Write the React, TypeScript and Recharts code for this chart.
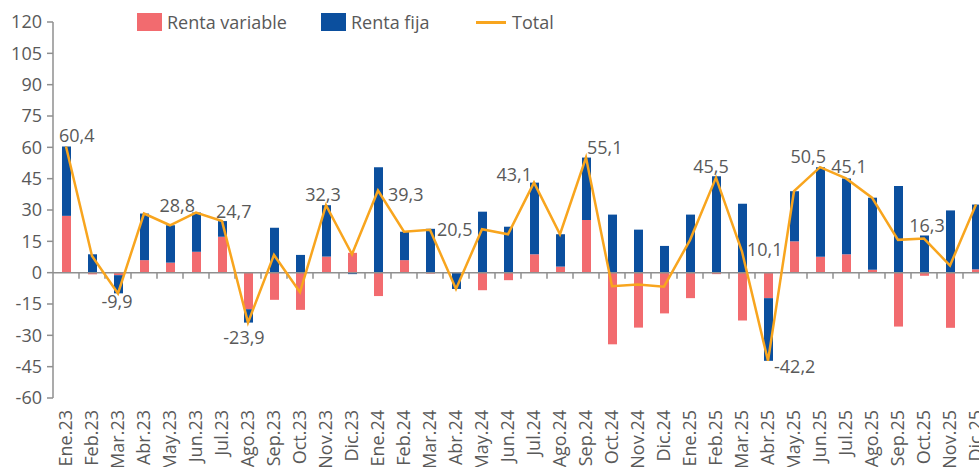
import React from 'react';
import { ComposedChart, Bar, Line, XAxis, YAxis, ReferenceLine, LabelList } from 'recharts';

const months = [
  'Ene.23', 'Feb.23', 'Mar.23', 'Abr.23', 'May.23', 'Jun.23', 'Jul.23', 'Ago.23', 'Sep.23', 'Oct.23', 'Nov.23', 'Dic.23',
  'Ene.24', 'Feb.24', 'Mar.24', 'Abr.24', 'May.24', 'Jun.24', 'Jul.24', 'Ago.24', 'Sep.24', 'Oct.24', 'Nov.24', 'Dic.24',
  'Ene.25', 'Feb.25', 'Mar.25', 'Abr.25', 'May.25', 'Jun.25', 'Jul.25', 'Ago.25', 'Sep.25', 'Oct.25', 'Nov.25', 'Dic.25',
];

const rentaVariable = [
  27.2, -0.8, -1.2, 6.0, 4.8, 10.0, 17.2, -17.5, -13.0, -17.8, 7.7, 9.5,
  -11.2, 6.0, -0.5, 0, -8.4, -3.6, 8.8, 2.9, 25.2, -34.3, -26.3, -19.5,
  -12.2, -0.7, -22.9, -12.2, 15.0, 7.6, 8.8, 1.4, -25.8, -1.5, -26.4, 1.6,
];

const rentaFija = [
  33.2, 8.8, -8.7, 22.3, 17.9, 18.8, 7.5, -6.4, 21.5, 8.5, 24.6, -0.7,
  50.5, 13.6, 21.0, -7.8, 29.2, 22.0, 34.3, 15.5, 29.9, 27.8, 20.6, 12.8,
  27.8, 46.2, 33.0, -30.0, 24.0, 42.9, 36.3, 34.5, 41.5, 17.8, 29.8, 31.0,
];

const total = [
  60.4, 8.0, -9.9, 28.3, 22.7, 28.8, 24.7, -23.9, 8.5, -9.3, 32.3, 8.8,
  39.3, 19.6, 20.5, -7.8, 20.8, 18.4, 43.1, 18.4, 55.1, -6.5, -5.7, -6.7,
  15.6, 45.5, 10.1, -42.2, 39.0, 50.5, 45.1, 35.9, 15.7, 16.3, 3.4, 32.6,
];

const yTicks = [-60, -45, -30, -15, 0, 15, 30, 45, 60, 75, 90, 105, 120];

// Which total points carry a value label (style config, not data)
const labelPlacement: Record<string, { dx: number; dy: number; anchor: 'start' | 'middle' | 'end' }> = {
  'Ene.23': { dx: -7, dy: -4, anchor: 'start' },
  'Mar.23': { dx: -1, dy: 15, anchor: 'middle' },
  'Jun.23': { dx: -1, dy: -1, anchor: 'end' },
  'Jul.23': { dx: -6, dy: -3, anchor: 'start' },
  'Ago.23': { dx: -4, dy: 21, anchor: 'middle' },
  'Nov.23': { dx: -3, dy: -4, anchor: 'middle' },
  'Ene.24': { dx: 10, dy: 10, anchor: 'start' },
  'Mar.24': { dx: 7, dy: 6, anchor: 'start' },
  'Jul.24': { dx: -2, dy: -2, anchor: 'end' },
  'Sep.24': { dx: 1, dy: -4, anchor: 'start' },
  'Feb.25': { dx: -5, dy: -5, anchor: 'middle' },
  'Mar.25': { dx: 5, dy: 4, anchor: 'start' },
  'Abr.25': { dx: 6, dy: 12, anchor: 'start' },
  'Jun.25': { dx: 6, dy: -4, anchor: 'end' },
  'Jul.25': { dx: 3, dy: -5, anchor: 'middle' },
  'Oct.25': { dx: 3, dy: -7, anchor: 'middle' },
};

const data = months.map((m, i) => ({
  month: m,
  rv: rentaVariable[i],
  rf: rentaFija[i],
  total: total[i],
}));

const FONT = '"Open Sans", sans-serif';
const TEXT = '#595959';
const RED = '#F26B6F';
const BLUE = '#0B4F9E';
const ORANGE = '#F8A51E';
const AXIS = '#8f8f8f';

const XTick = (props: any) => {
  const { x, y, payload } = props;
  return (
    <text
      x={x}
      y={y}
      transform={`rotate(-90, ${x}, ${y})`}
      textAnchor="end"
      dy="0.36em"
      fill={TEXT}
      fontSize={18}
      fontFamily={FONT}
    >
      {payload.value}
    </text>
  );
};

const ZeroLine = (props: any) => {
  const { x1, y1, x2, y2 } = props;
  const n = months.length;
  const band = (x2 - x1) / n;
  return (
    <g>
      <line x1={x1} y1={y1} x2={x2} y2={y2} stroke={AXIS} strokeWidth={1.5} />
      {Array.from({ length: n - 1 }, (_, i) => (
        <line
          key={i}
          x1={x1 + band * (i + 1)}
          x2={x1 + band * (i + 1)}
          y1={y1}
          y2={y1 + 6}
          stroke={AXIS}
          strokeWidth={1.5}
        />
      ))}
    </g>
  );
};

const TotalLabel = (props: any) => {
  const { x, y, value, index } = props;
  const cfg = labelPlacement[months[index]];
  if (!cfg) return null;
  return (
    <text
      x={x + cfg.dx}
      y={y + cfg.dy}
      textAnchor={cfg.anchor}
      fill={TEXT}
      fontSize={18}
      fontFamily={FONT}
    >
      {Number(value).toFixed(1).replace('.', ',')}
    </text>
  );
};

const legendText: React.CSSProperties = {
  position: 'absolute',
  top: 9,
  fontFamily: FONT,
  fontSize: 18,
  color: TEXT,
  lineHeight: '26px',
  whiteSpace: 'nowrap',
};

export default function App() {
  return (
    <div
      style={{
        position: 'absolute',
        left: 0,
        top: 0,
        width: 979,
        height: 467,
        overflow: 'hidden',
        background: '#fff',
      }}
    >
      <ComposedChart
        width={1000}
        height={467}
        data={data}
        stackOffset="sign"
        margin={{ top: 22, right: 11, bottom: 0, left: 0 }}
      >
        <XAxis
          dataKey="month"
          interval={0}
          axisLine={false}
          tickLine={false}
          tickSize={6}
          tickMargin={6}
          height={69}
          tick={<XTick />}
        />
        <YAxis
          width={53}
          domain={[-60, 120]}
          ticks={yTicks}
          interval={0}
          allowDataOverflow
          axisLine={{ stroke: AXIS, strokeWidth: 1.5 }}
          tickLine={{ stroke: AXIS, strokeWidth: 1.5 }}
          tickSize={6}
          tickMargin={5}
          tick={{ fill: TEXT, fontSize: 18, fontFamily: FONT }}
        />
        <Bar dataKey="rv" name="Renta variable" stackId="a" fill={RED} barSize={9} isAnimationActive={false} />
        <Bar dataKey="rf" name="Renta fija" stackId="a" fill={BLUE} barSize={9} isAnimationActive={false} />
        <ReferenceLine y={0} shape={(p: any) => <ZeroLine {...p} />} />
        <Line
          dataKey="total"
          name="Total"
          type="linear"
          stroke={ORANGE}
          strokeWidth={2.5}
          dot={false}
          isAnimationActive={false}
        >
          <LabelList dataKey="total" content={(p: any) => <TotalLabel {...p} />} />
        </Line>
      </ComposedChart>

      <div style={{ position: 'absolute', left: 137, top: 13, width: 25, height: 18, background: RED }} />
      <div style={{ ...legendText, left: 167 }}>Renta variable</div>
      <div style={{ position: 'absolute', left: 321, top: 13, width: 25, height: 18, background: BLUE }} />
      <div style={{ ...legendText, left: 351 }}>Renta fija</div>
      <div style={{ position: 'absolute', left: 476, top: 21, width: 30, height: 3, background: ORANGE }} />
      <div style={{ ...legendText, left: 512 }}>Total</div>
    </div>
  );
}
